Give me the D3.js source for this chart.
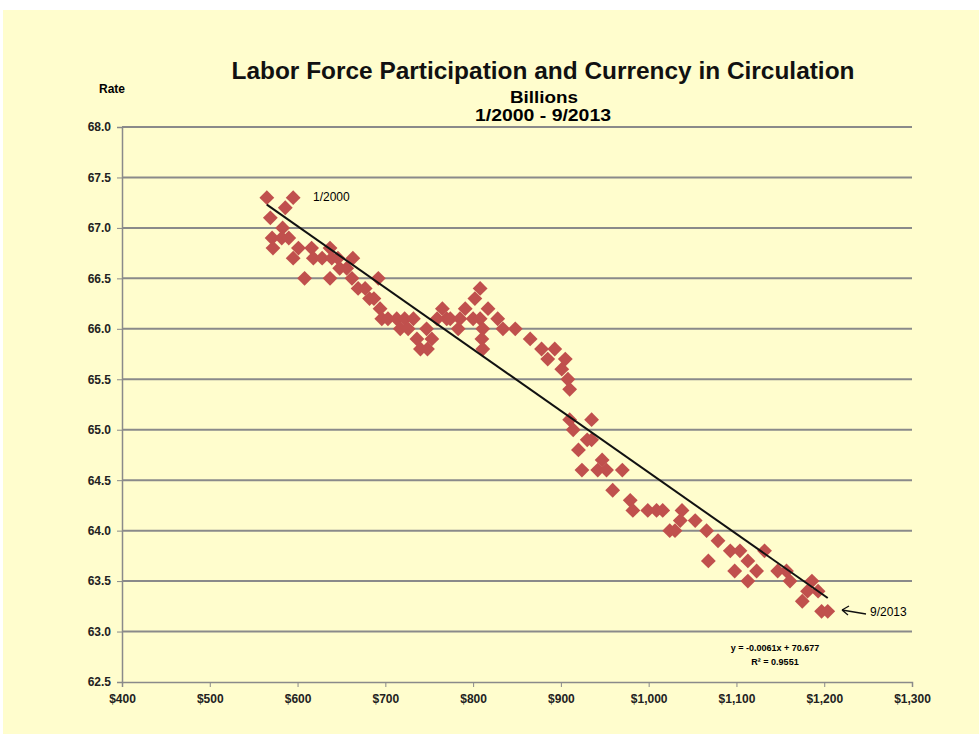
<!DOCTYPE html>
<html>
<head>
<meta charset="utf-8">
<script src="https://cdn.jsdelivr.net/npm/d3@7"></script>
<style>
  body { margin: 0; background: #fff; }
  text { font-family: "Liberation Sans", Arial, sans-serif; }
</style>
</head>
<body>
<div id="graph"></div>
<script>
// currency in circulation (billions $) and participation rate, 1/2000 .. 9/2013
const currency = [
  565, 595, 586, 569, 583, 571, 582, 572, 590, 595, 601, 608, 616, 618, 628, 637,
  639, 637, 646, 648, 656, 663, 662, 669, 677, 682, 692, 687, 694, 696, 703, 713,
  717, 722, 726, 732, 736, 740, 747, 753, 748, 759, 765, 770, 774, 783, 785, 791,
  800, 802, 808, 808, 811, 810, 811, 817, 828, 834, 848, 865, 878, 893, 885, 905,
  901, 908, 910, 910, 935, 914, 930, 935, 920, 947, 924, 942, 952, 970, 959, 979,
  982, 999, 1009, 1016, 1038, 1036, 1053, 1024, 1030, 1066, 1079, 1093, 1104, 1113, 1132, 1068,
  1098, 1123, 1113, 1147, 1157, 1161, 1186, 1193, 1175, 1181, 1197, 1204
];
const rate = [
  67.3, 67.3, 67.2, 67.1, 67.0, 66.9, 66.9, 66.8, 66.9, 66.7, 66.8, 66.5, 66.8, 66.7, 66.7, 66.8,
  66.7, 66.5, 66.7, 66.6, 66.6, 66.7, 66.5, 66.4, 66.4, 66.3, 66.5, 66.3, 66.2, 66.1, 66.1, 66.1,
  66.0, 66.1, 66.0, 66.1, 65.9, 65.8, 66.0, 65.9, 65.8, 66.1, 66.2, 66.1, 66.1, 66.0, 66.1, 66.2,
  66.1, 66.3, 66.4, 66.1, 66.0, 65.9, 65.8, 66.2, 66.1, 66.0, 66.0, 65.9, 65.8, 65.8, 65.7, 65.7,
  65.6, 65.5, 65.4, 65.1, 65.1, 65.0, 64.9, 64.9, 64.8, 64.7, 64.6, 64.6, 64.6, 64.6, 64.4, 64.3,
  64.2, 64.2, 64.2, 64.2, 64.2, 64.1, 64.1, 64.0, 64.0, 64.0, 63.9, 63.8, 63.8, 63.7, 63.8, 63.7,
  63.6, 63.6, 63.5, 63.6, 63.6, 63.5, 63.5, 63.4, 63.3, 63.4, 63.2, 63.2
];
const yTicks = [62.5, 63.0, 63.5, 64.0, 64.5, 65.0, 65.5, 66.0, 66.5, 67.0, 67.5, 68.0];
const xTicks = [400, 500, 600, 700, 800, 900, 1000, 1100, 1200, 1300];
const slope = -0.0061, intercept = 70.677, r2 = 0.9551;

const W = 979, H = 740;
const plotLeft = 122, plotRight = 912, plotTop = 127, plotBottom = 682;

const svg = d3.select('#graph').append('svg')
  .attr('width', W).attr('height', H);

svg.append('rect')
  .attr('x', 3).attr('y', 10)
  .attr('width', W - 3).attr('height', 724)
  .attr('fill', '#FFFDCD');

const x = d3.scaleLinear().domain([400, 1300]).range([plotLeft, plotRight]);
const y = d3.scaleLinear().domain([62.5, 68.0]).range([plotBottom, plotTop]);

// gridlines
svg.append('g')
  .selectAll('line')
  .data(yTicks.slice(1))
  .enter().append('line')
    .attr('x1', plotLeft).attr('x2', plotRight)
    .attr('y1', d => y(d)).attr('y2', d => y(d))
    .attr('stroke', '#8A8A8A').attr('stroke-width', 2);

const yAxis = d3.axisLeft(y).tickValues(yTicks).tickFormat(d3.format('.1f')).tickSize(5);
const gy = svg.append('g').attr('transform', 'translate(' + plotLeft + ',0)').call(yAxis);
gy.select('.domain').attr('stroke', '#8A8A8A').attr('stroke-width', 1.5);
gy.selectAll('.tick line').attr('stroke', '#8A8A8A');
gy.selectAll('.tick text')
  .attr('x', -11)
  .style('font-size', '12px').style('font-weight', 'bold')
  .attr('fill', '#222');

const xAxis = d3.axisBottom(x).tickValues(xTicks).tickFormat(d3.format('$,')).tickSize(5);
const gx = svg.append('g').attr('transform', 'translate(0,' + plotBottom + ')').call(xAxis);
gx.select('.domain').attr('stroke', '#8A8A8A').attr('stroke-width', 1.5);
gx.selectAll('.tick line').attr('stroke', '#8A8A8A');
gx.selectAll('.tick text')
  .attr('y', 12)
  .style('font-size', '12px').style('font-weight', 'bold')
  .attr('fill', '#222');

// points
const pts = currency.map((c, i) => [c, rate[i]]);
const diamond = d3.symbol().type(d3.symbolSquare).size(110);
svg.append('g')
  .selectAll('path')
  .data(pts)
  .enter().append('path')
    .attr('d', diamond)
    .attr('transform', d => 'translate(' + x(d[0]) + ',' + y(d[1]) + ') rotate(45)')
    .attr('fill', '#C0504D');

// trend line
const x0 = d3.min(currency), x1 = d3.max(currency);
svg.append('line')
  .attr('x1', x(x0)).attr('y1', y(slope * x0 + intercept))
  .attr('x2', x(x1)).attr('y2', y(slope * x1 + intercept))
  .attr('stroke', '#111').attr('stroke-width', 2);

// titles
svg.append('text')
  .attr('x', 543).attr('y', 79)
  .attr('text-anchor', 'middle')
  .attr('textLength', 623).attr('lengthAdjust', 'spacingAndGlyphs')
  .style('font-size', '24px').style('font-weight', 'bold')
  .attr('fill', '#111')
  .text('Labor Force Participation and Currency in Circulation');
svg.append('text')
  .attr('x', 544).attr('y', 103)
  .attr('text-anchor', 'middle')
  .attr('textLength', 68).attr('lengthAdjust', 'spacingAndGlyphs')
  .style('font-size', '16px').style('font-weight', 'bold')
  .text('Billions');
svg.append('text')
  .attr('x', 543).attr('y', 121)
  .attr('text-anchor', 'middle')
  .attr('textLength', 136).attr('lengthAdjust', 'spacingAndGlyphs')
  .style('font-size', '16px').style('font-weight', 'bold')
  .text('1/2000 - 9/2013');
svg.append('text')
  .attr('x', 112).attr('y', 93)
  .attr('text-anchor', 'middle')
  .style('font-size', '12px').style('font-weight', 'bold')
  .text('Rate');

// annotations
svg.append('text')
  .attr('x', 313).attr('y', 201)
  .style('font-size', '12px')
  .text('1/2000');
svg.append('text')
  .attr('x', 870).attr('y', 616)
  .style('font-size', '12px')
  .text('9/2013');
svg.append('path')
  .attr('d', 'M866,614 L842,610 M842,610 L849,606 M842,610 L848,615')
  .attr('stroke', '#111').attr('stroke-width', 1.3).attr('fill', 'none');

svg.append('text')
  .attr('x', 775).attr('y', 651)
  .attr('text-anchor', 'middle')
  .style('font-size', '9px').style('font-weight', 'bold')
  .text('y = ' + slope + 'x + ' + intercept);
svg.append('text')
  .attr('x', 775).attr('y', 665)
  .attr('text-anchor', 'middle')
  .style('font-size', '9px').style('font-weight', 'bold')
  .text('R² = ' + r2);
</script>
</body>
</html>
